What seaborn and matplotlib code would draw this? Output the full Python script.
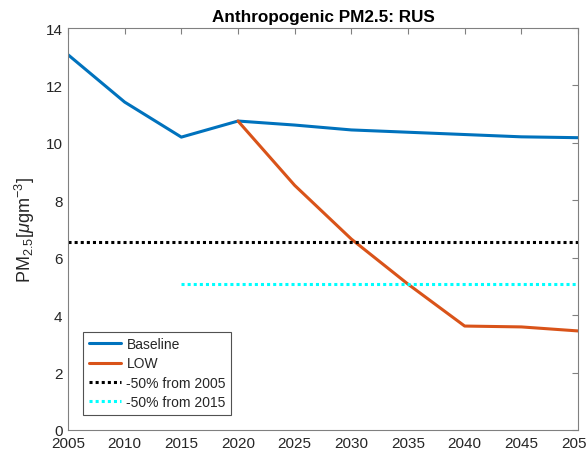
import matplotlib
matplotlib.use("Agg")
import matplotlib.pyplot as plt
import seaborn as sns
import pandas as pd

years = [2005, 2010, 2015, 2020, 2025, 2030, 2035, 2040, 2045, 2050]
baseline = [13.07, 11.42, 10.2, 10.76, 10.62, 10.45, 10.37, 10.29, 10.21, 10.18]
low_years = [2020, 2025, 2030, 2035, 2040, 2045, 2050]
low = [10.76, 8.52, 6.65, 5.08, 3.62, 3.59, 3.45]
ref2005_years = [2005, 2050]
ref2005 = [6.54, 6.54]
ref2015_years = [2015, 2050]
ref2015 = [5.1, 5.1]

sns.set_theme(style="white")
plt.rcParams['font.family'] = ['Liberation Sans', 'DejaVu Sans']
plt.rcParams['mathtext.fontset'] = 'custom'
plt.rcParams['mathtext.rm'] = 'Liberation Sans'
plt.rcParams['mathtext.it'] = 'Liberation Sans:italic'

fig = plt.figure(figsize=(5.86, 4.56), dpi=100)
ax = fig.add_axes([68/586, 25/456, 510/586, 402/456])

df_b = pd.DataFrame({"year": years, "val": baseline})
df_l = pd.DataFrame({"year": low_years, "val": low})
df_r1 = pd.DataFrame({"year": ref2005_years, "val": ref2005})
df_r2 = pd.DataFrame({"year": ref2015_years, "val": ref2015})

sns.lineplot(data=df_b, x="year", y="val", ax=ax, color="#0072BD", lw=2.2, label="Baseline")
sns.lineplot(data=df_l, x="year", y="val", ax=ax, color="#D95319", lw=2.2, label="LOW")
sns.lineplot(data=df_r1, x="year", y="val", ax=ax, color="black", lw=2.2, ls=(0, (1, 1)), label="-50% from 2005")
sns.lineplot(data=df_r2, x="year", y="val", ax=ax, color="cyan", lw=2.2, ls=(0, (1, 1)), label="-50% from 2015")

ax.set_xlim(2005, 2050)
ax.set_ylim(0, 14)
ax.set_xticks(range(2005, 2051, 5))
ax.set_yticks(range(0, 15, 2))
ax.tick_params(direction="in", length=4, width=0.8, colors="#808080", labelcolor="#262626",
               labelsize=11, top=True, right=True, pad=4)
for s in ax.spines.values():
    s.set_color("#808080")
    s.set_linewidth(0.8)
ax.set_xlabel("")
ax.set_ylabel(r"PM$_{2.5}$[$\mu$gm$^{-3}$]", fontsize=13, color="#262626", labelpad=6)
ax.set_title("Anthropogenic PM2.5: RUS", fontsize=12.3, fontweight="bold", color="black", pad=5)

leg = ax.legend(loc="lower left", bbox_to_anchor=(0.022, 0.028), fontsize=10, frameon=True,
                fancybox=False, edgecolor="#262626", handlelength=2.3, handletextpad=0.4,
                borderpad=0.4, labelspacing=0.38, borderaxespad=0.3)
leg.get_frame().set_linewidth(0.8)

fig.savefig("out.png", dpi=100)
